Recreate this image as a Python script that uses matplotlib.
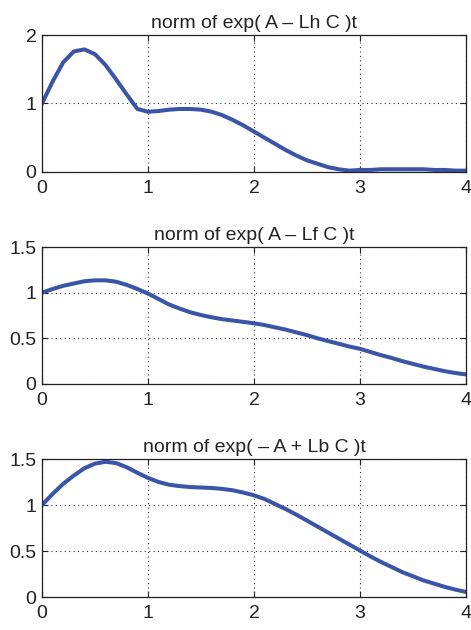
import numpy as np
import matplotlib
matplotlib.use("Agg")
import matplotlib.pyplot as plt

t = [round(0.1 * i, 1) for i in range(41)]

norm_lh = [1.00, 1.32, 1.60, 1.76, 1.79, 1.72, 1.56, 1.35, 1.13, 0.92,
           0.88, 0.89, 0.91, 0.92, 0.92, 0.91, 0.88, 0.83, 0.76, 0.68,
           0.59, 0.50, 0.41, 0.32, 0.24, 0.17, 0.12, 0.07, 0.04, 0.02,
           0.03, 0.03, 0.04, 0.04, 0.04, 0.04, 0.04, 0.03, 0.03, 0.02, 0.02]

norm_lf = [1.00, 1.04, 1.075, 1.10, 1.125, 1.135, 1.135, 1.12, 1.085, 1.04,
           0.99, 0.93, 0.87, 0.825, 0.785, 0.755, 0.73, 0.71, 0.695, 0.68,
           0.665, 0.645, 0.62, 0.595, 0.565, 0.535, 0.50, 0.47, 0.44, 0.41,
           0.385, 0.35, 0.315, 0.285, 0.25, 0.22, 0.19, 0.165, 0.14, 0.12, 0.105]

norm_lb = [1.00, 1.12, 1.23, 1.32, 1.40, 1.45, 1.47, 1.455, 1.41, 1.35,
           1.295, 1.25, 1.22, 1.205, 1.195, 1.19, 1.185, 1.175, 1.16, 1.135,
           1.105, 1.065, 1.01, 0.955, 0.895, 0.83, 0.765, 0.70, 0.635, 0.57,
           0.505, 0.44, 0.38, 0.325, 0.27, 0.225, 0.18, 0.145, 0.11, 0.08, 0.055]

titles = ["norm of exp( A \u2013 Lh C )t",
          "norm of exp( A \u2013 Lf C )t",
          "norm of exp( \u2013 A + Lb C )t"]
series = [norm_lh, norm_lf, norm_lb]
yticks = [[0, 1, 2], [0, 0.5, 1, 1.5], [0, 0.5, 1, 1.5]]
yticklabels = [["0", "1", "2"], ["0", "0.5", "1", "1.5"], ["0", "0.5", "1", "1.5"]]
xticks = [0, 1, 2, 3, 4]

plt.rcParams['font.family'] = ['Liberation Sans', 'DejaVu Sans']

W, H = 471, 630
fig = plt.figure(figsize=(W / 100, H / 100), dpi=100)

# axes boxes in pixels: (left, top, right, bottom)
boxes = [(42, 35, 466, 172), (42, 247, 466, 384), (42, 459, 466, 597)]

for i, (l, tp, r, b) in enumerate(boxes):
    ax = fig.add_axes([l / W, 1 - b / H, (r - l) / W, (b - tp) / H])
    ax.plot(t, series[i], color='#3a55a8', linewidth=2.9, solid_joinstyle='round')
    ax.set_xlim(0, 4)
    ax.set_ylim(yticks[i][0], yticks[i][-1])
    ax.set_xticks(xticks)
    ax.set_xticklabels([str(x) for x in xticks])
    ax.set_yticks(yticks[i])
    ax.set_yticklabels(yticklabels[i])
    ax.tick_params(direction='in', top=True, right=True, length=4, width=0.8,
                   labelsize=14, colors='#222222')
    ax.tick_params(axis='x', pad=6)
    ax.tick_params(axis='y', pad=4)
    ax.grid(True, linestyle=(0, (1, 3)), color='#333333', linewidth=0.8)
    for s in ax.spines.values():
        s.set_linewidth(0.9)
        s.set_color('#222222')
    ax.set_title(titles[i], fontsize=14, color='#222222', pad=5)

fig.savefig("out.png", dpi=100)
